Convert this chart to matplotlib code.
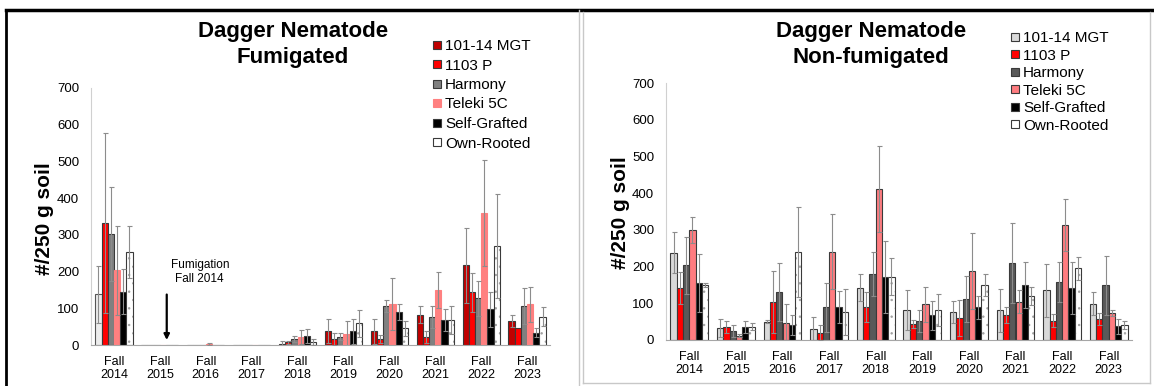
import matplotlib
matplotlib.use("Agg")
import matplotlib.pyplot as plt
import numpy as np
from matplotlib.lines import Line2D

plt.rcParams['font.family'] = ['Liberation Sans', 'DejaVu Sans']
plt.rcParams['hatch.linewidth'] = 0.5

years = ['Fall\n2014', 'Fall\n2015', 'Fall\n2016', 'Fall\n2017', 'Fall\n2018',
         'Fall\n2019', 'Fall\n2020', 'Fall\n2021', 'Fall\n2022', 'Fall\n2023']
series = ['101-14 MGT', '1103 P', 'Harmony', 'Teleki 5C', 'Self-Grafted', 'Own-Rooted']

# Fumigated plots: means and standard errors (#/250 g soil)
fum_mgt = [138, 0, 0, 0, 3, 38, 37, 82, 217, 66]
fum_1103p = [332, 0, 0, 0, 7, 16, 16, 22, 143, 45]
fum_harmony = [302, 0, 0, 0, 17, 23, 106, 75, 127, 107]
fum_teleki = [203, 0, 3, 0, 23, 29, 111, 150, 360, 111]
fum_self = [145, 0, 0, 0, 24, 37, 90, 68, 97, 34]
fum_own = [253, 0, 0, 0, 8, 59, 45, 68, 269, 77]

fum_mgt_se = [77, 0, 0, 0, 8, 33, 33, 23, 102, 16]
fum_1103p_se = [245, 0, 0, 0, 5, 16, 10, 17, 54, 0]
fum_harmony_se = [128, 0, 0, 0, 8, 9, 16, 30, 48, 49]
fum_teleki_se = [122, 0, 2, 0, 19, 36, 71, 49, 145, 48]
fum_self_se = [61, 0, 0, 0, 19, 33, 21, 29, 48, 11]
fum_own_se = [70, 0, 0, 0, 9, 36, 21, 37, 141, 26]

# Non-fumigated plots
non_mgt = [238, 33, 50, 30, 142, 82, 76, 81, 135, 99]
non_1103p = [142, 36, 104, 20, 89, 44, 60, 67, 53, 57]
non_harmony = [203, 25, 131, 89, 180, 52, 112, 211, 158, 149]
non_teleki = [299, 12, 45, 240, 412, 97, 188, 104, 314, 74]
non_self = [155, 36, 41, 89, 172, 67, 89, 150, 142, 37]
non_own = [149, 36, 240, 76, 172, 82, 150, 119, 195, 41]

non_mgt_se = [56, 24, 5, 34, 37, 55, 29, 58, 73, 31]
non_1103p_se = [43, 17, 85, 20, 41, 11, 48, 22, 18, 16]
non_harmony_se = [78, 16, 79, 67, 60, 30, 63, 109, 54, 80]
non_teleki_se = [36, 4, 52, 102, 117, 47, 104, 31, 71, 9]
non_self_se = [80, 17, 27, 44, 98, 39, 32, 62, 70, 20]
non_own_se = [6, 10, 123, 63, 50, 44, 30, 25, 31, 12]

fum_colors = ['#c00000', '#ff0000', '#808080', '#ff8080', '#000000', '#ffffff']
non_colors = ['#d9d9d9', '#ff0000', '#595959', '#ff7c80', '#000000', '#ffffff']

W, H = 1154, 386
fig = plt.figure(figsize=(W / 100, H / 100), dpi=100)
EDGE = '#3a3a3a'


def draw_panel(ax, means, errs, colors, edge_teleki=True):
    x = np.arange(len(years))
    width = 0.135
    handles = []
    for i, (m, e, c) in enumerate(zip(means, errs, colors)):
        pos = x + (i - 2.5) * width
        ec = c if (i == 3 and not edge_teleki) else EDGE
        if i == 5:
            # dotted fill first, then the outline on top
            ax.bar(pos, m, width, color=c, edgecolor='#a0a0a0', linewidth=0,
                   hatch='..', zorder=2)
            ax.bar(pos, m, width, fill=False, edgecolor=EDGE, linewidth=0.8, zorder=2)
        else:
            ax.bar(pos, m, width, color=c, edgecolor=ec, linewidth=0.8, zorder=2)
        handles.append(Line2D([], [], linestyle='none', marker='s', markersize=5.5,
                              markerfacecolor=c, markeredgecolor=ec,
                              markeredgewidth=0.8, label=series[i]))
        ee = np.array(e, dtype=float)
        ee[ee == 0] = np.nan
        ax.errorbar(pos, m, yerr=ee, fmt='none', ecolor='#8c8c8c',
                    elinewidth=0.8, capsize=1.8, capthick=0.8, zorder=3)
    ax.set_xlim(-0.5, len(years) - 0.5)
    ax.set_ylim(0, 700)
    ax.set_yticks(range(0, 701, 100))
    ax.set_xticks(x)
    ax.set_xticklabels(years, fontsize=9, linespacing=1.15)
    ax.tick_params(axis='y', labelsize=9.5, length=0, pad=8.5)
    ax.tick_params(axis='x', length=0, pad=8)
    for s in ['top', 'right']:
        ax.spines[s].set_visible(False)
    ax.spines['left'].set_color('#d0d0d0')
    ax.spines['bottom'].set_color('#a6a6a6')
    return handles


# Fumigated panel
ax1 = fig.add_axes([91 / W, 1 - 345 / H, 459 / W, 257 / H])
fum_means = [fum_mgt, fum_1103p, fum_harmony, fum_teleki, fum_self, fum_own]
fum_errs = [fum_mgt_se, fum_1103p_se, fum_harmony_se, fum_teleki_se, fum_self_se, fum_own_se]
h1 = draw_panel(ax1, fum_means, fum_errs, fum_colors, edge_teleki=False)
# first 101-14 MGT bar in 2014 drawn light grey in the original
ax1.patches[0].set_facecolor('#ececec')
ax1.patches[0].set_edgecolor('#555555')
ax1.annotate('', xy=(1.15, 6), xytext=(1.15, 145),
             arrowprops=dict(arrowstyle='-|>', color='black', lw=1.6, mutation_scale=8))
ax1.text(1.87, 199, 'Fumigation\nFall 2014', ha='center', va='center', fontsize=8.5,
         linespacing=1.15)
fig.legend(handles=h1, loc='upper left', bbox_to_anchor=(433 / W, 1 - 39 / H),
           frameon=False, fontsize=11, handlelength=0.5, handletextpad=0.3,
           labelspacing=0.36, borderaxespad=0, borderpad=0)

# Non-fumigated panel
ax2 = fig.add_axes([666 / W, 1 - 340 / H, 466 / W, 257 / H])
non_means = [non_mgt, non_1103p, non_harmony, non_teleki, non_self, non_own]
non_errs = [non_mgt_se, non_1103p_se, non_harmony_se, non_teleki_se, non_self_se, non_own_se]
h2 = draw_panel(ax2, non_means, non_errs, non_colors)
fig.legend(handles=h2, loc='upper left', bbox_to_anchor=(1011 / W, 1 - 31 / H),
           frameon=False, fontsize=11, handlelength=0.5, handletextpad=0.3,
           labelspacing=0.23, borderaxespad=0, borderpad=0)

# Titles and y labels
fig.text(293 / W, 1 - 32 / H, 'Dagger Nematode', ha='center', va='center',
         fontsize=16, fontweight='bold')
fig.text(293 / W, 1 - 58 / H, 'Fumigated', ha='center', va='center',
         fontsize=16, fontweight='bold')
fig.text(871 / W, 1 - 32 / H, 'Dagger Nematode', ha='center', va='center',
         fontsize=16, fontweight='bold')
fig.text(871 / W, 1 - 57 / H, 'Non-fumigated', ha='center', va='center',
         fontsize=16, fontweight='bold')
fig.text(45 / W, 1 - 219 / H, '#/250 g soil', rotation=90, ha='center', va='center',
         fontsize=15, fontweight='bold')
fig.text(620 / W, 1 - 213 / H, '#/250 g soil', rotation=90, ha='center', va='center',
         fontsize=15, fontweight='bold')

# Panel frames
fig.add_artist(Line2D([6 / W, 1], [1 - 10 / H, 1 - 10 / H], color='black', lw=2.5))
fig.add_artist(Line2D([6 / W, 6 / W], [0, 1 - 10 / H], color='black', lw=2.0))
fig.add_artist(Line2D([579 / W, 579 / W], [0, 1 - 10 / H], color='#c8c8c8', lw=1.0))
fig.add_artist(Line2D([583 / W, 583 / W], [3 / H, 1 - 12 / H], color='#c8c8c8', lw=1.0))
fig.add_artist(Line2D([1150 / W, 1150 / W], [3 / H, 1 - 12 / H], color='#c8c8c8', lw=1.0))
fig.add_artist(Line2D([583 / W, 1150 / W], [3 / H, 3 / H], color='#c8c8c8', lw=1.0))

fig.savefig('out.png', dpi=100)
